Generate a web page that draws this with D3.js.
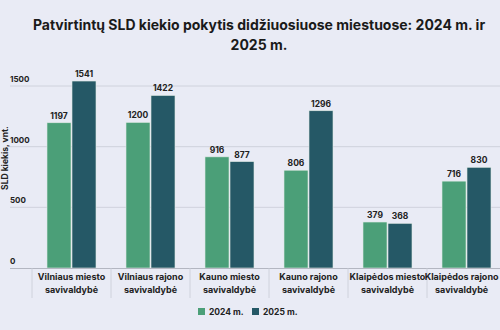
<!DOCTYPE html>
<html><head><meta charset="utf-8">
<script src="https://cdn.jsdelivr.net/npm/d3@7"></script>
<style>
html,body{margin:0;padding:0;background:#e9ebf5;}
svg{display:block;font-family:Inter,"Open Sans",sans-serif;}
</style></head>
<body><svg id="c" width="500" height="330"></svg>
<script>
const titleLines = ["Patvirtintų SLD kiekio pokytis didžiuosiuose miestuose: 2024 m. ir", "2025 m."];
const categories = [
  ["Vilniaus miesto","savivaldybė"],
  ["Vilniaus rajono","savivaldybė"],
  ["Kauno miesto","savivaldybė"],
  ["Kauno rajono","savivaldybė"],
  ["Klaipėdos miesto","savivaldybė"],
  ["Klaipėdos rajono","savivaldybė"]
];
const seriesNames = ["2024 m.","2025 m."];
const values2024 = [1197,1200,916,806,379,716];
const values2025 = [1541,1422,877,1296,368,830];
const yTicks = [0,500,1000,1500];
const yTitle = "SLD kiekis, vnt.";
const colors = ["#4b9f78","#255866"];

const svg = d3.select("#c");
const x = d3.scaleBand().domain(d3.range(categories.length)).range([32,32+79*6]).paddingInner(0).paddingOuter(0);
const y = d3.scaleLinear().domain([0,1500]).range([268,86]);
const bw = 24;

// title
svg.append("g").selectAll("text").data(titleLines).join("text")
  .attr("x",259).attr("y",(d,i)=>30+i*20).attr("text-anchor","middle")
  .attr("font-size",14).attr("font-weight",700).attr("fill","#1a1a1a").text(d=>d);

// grid
svg.append("g").selectAll("line").data(yTicks.filter(d=>d>0)).join("line")
  .attr("x1",10).attr("x2",500).attr("y1",d=>y(d)).attr("y2",d=>y(d))
  .attr("stroke","#c8cbd6").attr("stroke-width",0.8);
svg.append("g").selectAll("text").data(yTicks).join("text")
  .attr("x",10).attr("y",d=>y(d)-4).attr("font-size",8).attr("font-weight",700).attr("fill","#222").text(d=>d);

// y title
svg.append("text").attr("transform","translate(8,158) rotate(-90)").attr("text-anchor","middle")
  .attr("font-size",8.5).attr("font-weight",700).attr("fill","#222").text(yTitle);

// bars
const series = [values2024, values2025];
series.forEach((vals,si)=>{
  const g = svg.append("g");
  g.selectAll("rect").data(vals).join("rect")
    .attr("x",(d,i)=>x(i)+x.bandwidth()/2 - bw - 0.5 + si*(bw+1))
    .attr("y",d=>y(d)).attr("width",bw).attr("height",d=>y(0)-y(d))
    .attr("fill",colors[si]).attr("stroke","#dfe9e4").attr("stroke-width",0.6);
  g.selectAll("text").data(vals).join("text")
    .attr("x",(d,i)=>x(i)+x.bandwidth()/2 - bw/2 - 0.5 + si*(bw+1))
    .attr("y",d=>y(d)-4).attr("text-anchor","middle")
    .attr("font-size",8.5).attr("font-weight",700).attr("fill","#222").text(d=>d);
});

// x axis
svg.append("line").attr("x1",10).attr("x2",500).attr("y1",y(0)+0.5).attr("y2",y(0)+0.5)
  .attr("stroke","#b3b6c1").attr("stroke-width",1.2);
svg.append("g").selectAll("line").data(d3.range(categories.length)).join("line")
  .attr("x1",i=>x(i)).attr("x2",i=>x(i)).attr("y1",y(0)).attr("y2",298)
  .attr("stroke","#c8cbd6").attr("stroke-width",0.8);
const xl = svg.append("g").selectAll("text").data(categories).join("text")
  .attr("text-anchor","middle").attr("font-size",9).attr("font-weight",700).attr("fill","#222");
xl.each(function(d,i){
  const sel = d3.select(this);
  sel.selectAll("tspan").data(d).join("tspan")
    .attr("x",x(i)+x.bandwidth()/2).attr("y",(t,j)=>280+j*13).text(t=>t);
  // keep labels inside the picture
  const bb = this.getBBox();
  if (bb.x + bb.width > 499) {
    const shift = bb.x + bb.width - 499;
    sel.selectAll("tspan").attr("x",x(i)+x.bandwidth()/2 - shift);
  }
});

// legend
const lg = svg.append("g").selectAll("g").data(seriesNames).join("g")
  .attr("transform",(d,i)=>`translate(${198+i*54},308)`);
lg.append("rect").attr("width",7).attr("height",7).attr("fill",(d,i)=>colors[i]);
lg.append("text").attr("x",11).attr("y",7).attr("font-size",8.5).attr("font-weight",700).attr("fill","#222").text(d=>d);
</script></body></html>
